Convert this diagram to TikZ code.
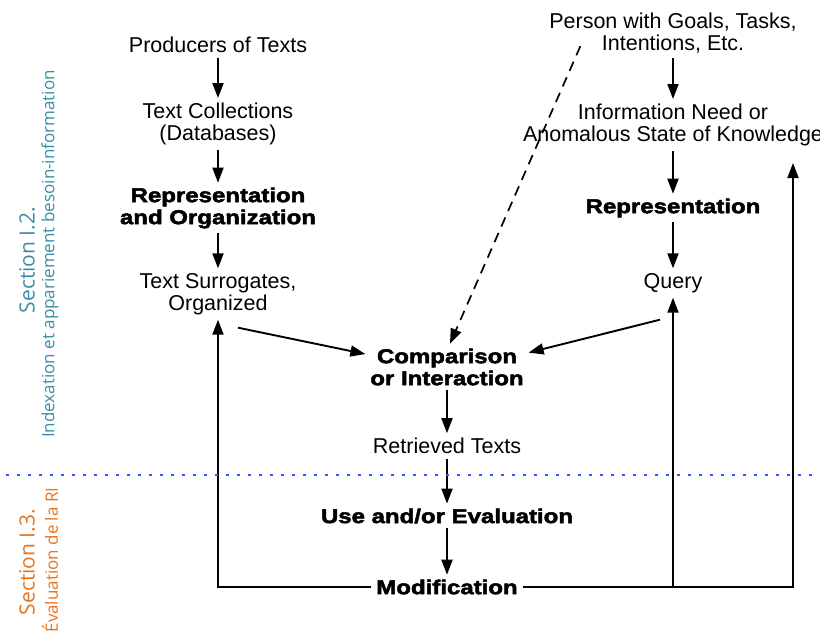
\documentclass[tikz,border=0pt]{standalone}
\usepackage{fontspec}
\setmainfont{Liberation Sans}
\newfontfamily\heavyfont[FakeBold=2.5,FakeStretch=1.2]{Liberation Sans Bold}
\newfontfamily\sidefont{Open Sans}
\usetikzlibrary{arrows.meta}
\definecolor{tealsec}{HTML}{3B8EA5}
\definecolor{orangesec}{HTML}{E8731E}
\definecolor{dotblue}{HTML}{2A5BFF}
\begin{document}
\begin{tikzpicture}[x=1pt, y=-1pt, line width=1.9pt, >={Triangle[length=15pt,width=11pt]},
	main/.style = {align=center, inner sep=4pt, font=\fontsize{21.5}{22}\selectfont},
	heavy/.style = {align=center, inner sep=4pt, font=\fontsize{20}{22}\heavyfont},
	side/.style = {rotate=90, inner sep=0pt}]
	\useasboundingbox (0,0) rectangle (820,630);
	%Left column: texts
	\node[main] (1) at (218,45) {Producers of Texts};
	\node[main] (2) [node distance=79pt, below of=1] {Text Collections\\(Databases)};
	\node[heavy] (3) [node distance=84pt, below of=2] {Representation\\and Organization};
	\node[main] (4) [node distance=86pt, below of=3] {Text Surrogates,\\Organized};
	%Right column: person
	\node[main] (5) at (673,33) {Person with Goals, Tasks,\\Intentions, Etc.};
	\node[main] (6) [node distance=92pt, below of=5] {Information Need or\\Anomalous State of Knowledge};
	\node[heavy] (7) [node distance=83pt, below of=6] {Representation};
	\node[main] (8) [node distance=75pt, below of=7] {Query};
	%Middle column
	\node[heavy] (9) at (447,367) {Comparison\\or Interaction};
	\node[main] (10) [node distance=79pt, below of=9] {Retrieved Texts};
	\node[heavy] (11) [node distance=70pt, below of=10] {Use and/or Evaluation};
	\node[heavy] (12) [node distance=71pt, below of=11] {Modification};
	\coordinate (13) at (793,163);

	%Edges down the columns
	\path [->] (1) edge (2); 	%Producers -> Collections
	\path [->] (2) edge (3); 	%Collections -> Representation
	\path [->] (3) edge (4); 	%Representation -> Surrogates
	\path [->] (5) edge (6); 	%Person -> Need
	\path [->] (6) edge (7); 	%Need -> Representation
	\path [->] (7) edge (8); 	%Representation -> Query
	\path [->] (9) edge (10); 	%Comparison -> Retrieved
	\path [->] (10) edge (11); 	%Retrieved -> Use
	\path [->] (11) edge (12); 	%Use -> Modification

	%Into comparison
	\draw[->] ([xshift=20pt,yshift=-8pt]4.south) -- (9.171);
	\draw[->] ([xshift=-13pt,yshift=-22pt]8.south) -- (9.10);
	\draw[->,dashed,dash pattern=on 10pt off 7pt,line width=1.7pt] ([xshift=36pt,yshift=12pt]5.south west) -- ([xshift=3pt]9.north);

	%Feedback from modification
	\draw[->] (12.west) -| (4.south);
	\draw[->] (12.east) -| (13);
	\draw[->] (8 |- 12) -- (8.south);

	%Sections
	\draw[dotblue, line width=2.5pt, dash pattern=on 2.5pt off 8.5pt] (6,475) -- (820,475);
	\node[side, text=tealsec, font=\fontsize{21}{22}\sidefont] (14) at (27,260) {Section I.2.};
	\node[side, text=tealsec, font=\fontsize{17}{18}\sidefont] (15) at (50,254) {Indexation et appariement besoin-information};
	\node[side, text=orangesec, font=\fontsize{21}{22}\sidefont] (16) at (27,562) {Section I.3.};
	\node[side, text=orangesec, font=\fontsize{17}{18}\sidefont] (17) at (50,560) {Évaluation de la RI};
\end{tikzpicture}
\end{document}
